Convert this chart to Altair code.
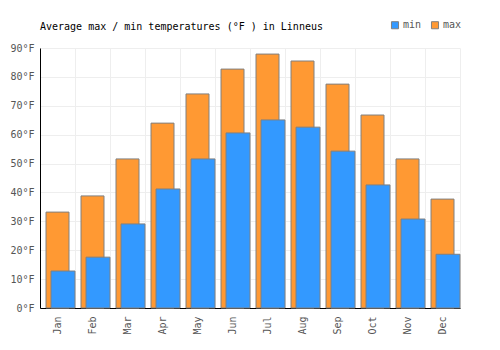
import altair as alt
import pandas as pd

months = ["Jan", "Feb", "Mar", "Apr", "May", "Jun", "Jul", "Aug", "Sep", "Oct", "Nov", "Dec"]
min_vals = [12.8, 17.6, 29.1, 41.2, 51.6, 60.6, 65.1, 62.6, 54.3, 42.6, 30.8, 18.6]
max_vals = [33.2, 38.8, 51.6, 64.0, 74.1, 82.7, 87.9, 85.5, 77.5, 66.8, 51.6, 37.7]
series = ["min", "max"]
colors = ["#3399FF", "#FF9933"]
y_ticks = [0, 10, 20, 30, 40, 50, 60, 70, 80, 90]

rows = []
for m, lo, hi in zip(months, min_vals, max_vals):
    rows.append({"month": m, "series": "min", "value": lo})
    rows.append({"month": m, "series": "max", "value": hi})
df = pd.DataFrame(rows)

FONT = "DejaVu Sans Mono"
GRID = "#eeeeee"
LABEL = "#555555"

x = alt.X(
    "month:N", sort=months,
    scale=alt.Scale(paddingInner=0, paddingOuter=0),
    axis=alt.Axis(title=None, labelAngle=270, tickBand="extent", ticks=False,
                  grid=True, gridColor=GRID, domainColor="black",
                  labelColor=LABEL, labelFont=FONT, labelFontSize=10, labelPadding=8),
)
y = alt.Y(
    "value:Q",
    scale=alt.Scale(domain=[0, 90], nice=False),
    axis=alt.Axis(title=None, values=y_ticks, labelExpr="datum.value + '°F'",
                  ticks=False, grid=True, gridColor=GRID, domainColor="black",
                  labelColor=LABEL, labelFont=FONT, labelFontSize=10, labelPadding=6),
)
color = alt.Color(
    "series:N",
    scale=alt.Scale(domain=series, range=colors),
    legend=alt.Legend(title=None, orient="none", direction="horizontal",
                      legendX=350, legendY=-28, symbolType="square", symbolSize=50,
                      symbolStrokeColor="#808080", symbolStrokeWidth=1,
                      labelFont=FONT, labelFontSize=10, labelColor=LABEL,
                      labelOffset=3, columnPadding=7),
)

base = alt.Chart(df).encode(x=x, y=y, color=color)
max_bar = base.transform_filter(alt.datum.series == "max").mark_bar(
    width=23, stroke="#808080", strokeWidth=1, opacity=1)
min_bar = base.transform_filter(alt.datum.series == "min").mark_bar(
    width=24, xOffset=5.5, stroke="#808080", strokeWidth=1, opacity=1)

chart = alt.layer(max_bar, min_bar).properties(
    width=420, height=260,
    autosize=alt.AutoSizeParams(type="none"),
    padding={"left": 40, "top": 48, "right": 40, "bottom": 42},
    title=alt.TitleParams("Average max / min temperatures (°F ) in Linneus",
                          anchor="start", frame="group", font=FONT, fontSize=10,
                          fontWeight="normal", color="black", offset=0, dy=12),
).configure_view(stroke=None)

chart.save("out.html", embed_options={"renderer": "svg", "actions": False})
